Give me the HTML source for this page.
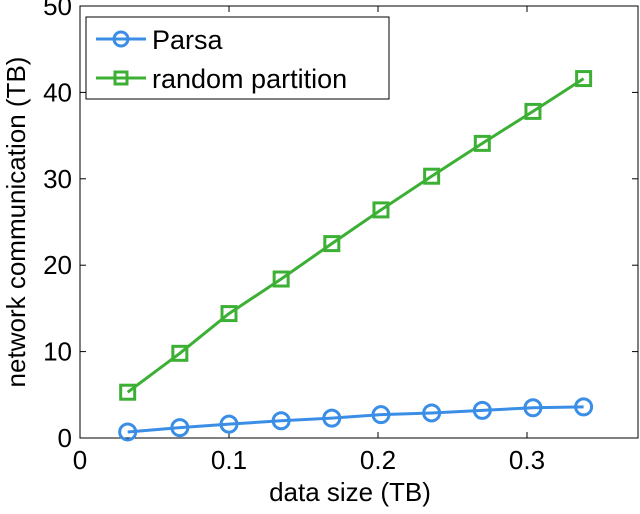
<!DOCTYPE html>
<html><head><meta charset="utf-8"><style>
body{margin:0;background:#fff;}
svg text{font-family:"Liberation Sans",Arial,sans-serif;fill:#000;}
</style></head><body>
<svg width="640" height="509" viewBox="0 0 640 509">
<g id="plot"></g>
</svg>
<script>
const xTicks=[0,0.1,0.2,0.3];
const xTickLabels=["0","0.1","0.2","0.3"];
const yTicks=[0,10,20,30,40,50];
const yTickLabels=["0","10","20","30","40","50"];
const dataSize=[0.032,0.067,0.100,0.135,0.169,0.202,0.236,0.270,0.304,0.338];
const parsaValues=[0.7,1.2,1.6,2.0,2.3,2.7,2.9,3.2,3.5,3.6];
const randomValues=[5.3,9.8,14.4,18.4,22.5,26.4,30.3,34.1,37.8,41.6];
const L=80,R=638,T=6,B=438,XMAX=(638-80)/1490,YMAX=50;
function sx(v){return L+v/XMAX*(R-L);}
function sy(v){return B-v/YMAX*(B-T);}
const NS="http://www.w3.org/2000/svg";
const g=document.getElementById('plot');
function mk(tag,attrs,parent){const e=document.createElementNS(NS,tag);for(const k in attrs)e.setAttribute(k,attrs[k]);(parent||g).appendChild(e);return e;}
const frame=mk('rect',{x:L,y:T,width:R-L,height:B-T,fill:'none',stroke:'#000','stroke-width':1});


xTicks.forEach((v,i)=>{
  const x=sx(v);
  const t1=mk('line',{x1:x,x2:x,y1:B,y2:B-6,stroke:'#000'});
  
  
  const t2=mk('line',{x1:x,x2:x,y1:T,y2:T+6,stroke:'#000'});
  
  
  const tx=mk('text',{x:x,y:469,'font-size':26,'text-anchor':'middle'});
  tx.textContent=xTickLabels[i];
  
  
});
yTicks.forEach((v,i)=>{
  const y=sy(v);
  const t1=mk('line',{x1:L,x2:L+6,y1:y,y2:y,stroke:'#000'});
  
  
  const t2=mk('line',{x1:R,x2:R-6,y1:y,y2:y,stroke:'#000'});
  
  
  const tx=mk('text',{x:72,y:y+9,'font-size':26,'text-anchor':'end'});
  tx.textContent=yTickLabels[i];
  
  
});
const xt=mk('text',{x:350,y:501,'font-size':26,'text-anchor':'middle'});
xt.textContent='data size (TB)';


const yt=mk('text',{x:0,y:0,'font-size':26,'text-anchor':'middle',transform:'translate(25,222) rotate(-90)'});
yt.textContent='network communication (TB)';


function series(vals,color,shape,name){
  const pl=mk('polyline',{points:vals.map((v,i)=>sx(dataSize[i])+','+sy(v)).join(' '),fill:'none',stroke:color,'stroke-width':3});
  
  
  vals.forEach((v,i)=>{
    const x=sx(dataSize[i]),y=sy(v);let m;
    if(shape==='circle')m=mk('circle',{cx:x,cy:y,r:8,fill:'none',stroke:color,'stroke-width':3});
    else m=mk('rect',{x:x-7,y:y-7,width:14,height:14,fill:'none',stroke:color,'stroke-width':3});
    
    
  });
}
series(randomValues,'#3cb034','square','random-partition');
series(parsaValues,'#3b8ee6','circle','parsa');
const lg=mk('g',{});


mk('rect',{x:86,y:17,width:303,height:82,fill:'#fff',stroke:'#000','stroke-width':1},lg);
mk('line',{x1:96,x2:146,y1:39,y2:39,stroke:'#3b8ee6','stroke-width':3},lg);
mk('circle',{cx:121,cy:39,r:7,fill:'none',stroke:'#3b8ee6','stroke-width':3},lg);
const l1=mk('text',{x:152,y:49,'font-size':27},lg);l1.textContent='Parsa';


mk('line',{x1:96,x2:146,y1:78,y2:78,stroke:'#3cb034','stroke-width':3},lg);
mk('rect',{x:115,y:72,width:12,height:12,fill:'none',stroke:'#3cb034','stroke-width':3},lg);
const l2=mk('text',{x:152,y:88,'font-size':27},lg);l2.textContent='random partition';


</script>
</body></html>
